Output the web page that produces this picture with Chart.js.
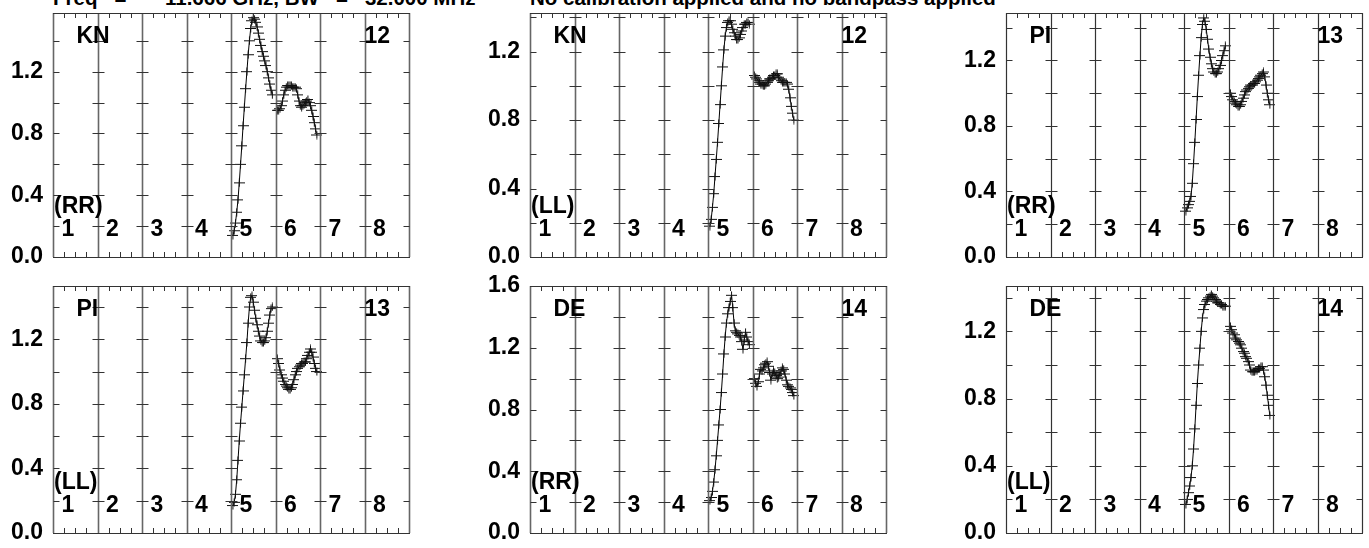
<!DOCTYPE html>
<html>
<head>
<meta charset="utf-8">
<script src="https://cdn.jsdelivr.net/npm/chart.js@4.4.1/dist/chart.umd.min.js"></script>
<style>
  html, body { margin:0; padding:0; background:#fff; }
  body { width:1369px; height:548px; position:relative; overflow:hidden; font-family:"Liberation Sans", Arial, Helvetica, sans-serif; }
  canvas { position:absolute; }
  .ttl { position:absolute; top:-12px; font-weight:bold; font-size:20.5px; line-height:20.5px; white-space:pre; color:#000; }
</style>
</head>
<body>
<div class="ttl" style="left:53px">Freq   =</div>
<div class="ttl" style="left:165px">11.666 GHz, BW   =   32.000 MHz</div>
<div class="ttl" style="left:530px">No calibration applied and no bandpass applied</div>
<script>
// ---------------- DATA ----------------
const ifLabels = ['1','2','3','4','5','6','7','8'];
const stations = ['KN','KN','PI','PI','DE','DE'];
const pols = ['(RR)','(LL)','(RR)','(LL)','(RR)','(LL)'];
const antNums = ['12','12','13','13','14','14'];
const yMax = [1.58, 1.425, 1.49, 1.53, 1.6, 1.47];
const yTickValues = [0.0, 0.4, 0.8, 1.2, 1.6];
const yMinorStep = 0.2;

// channel amplitudes, 32 channels, IF 5 and IF 6
const knRR5 = [0.14,0.17,0.22,0.29,0.37,0.48,0.60,0.72,0.85,0.97,1.09,1.20,1.31,1.40,1.48,1.53,1.55,1.54,1.52,1.49,1.45,1.41,1.37,1.33,1.30,1.27,1.24,1.20,1.16,1.12,1.08,1.05];
const knRR6 = [0.95,0.95,0.96,0.98,1.01,1.05,1.08,1.10,1.11,1.11,1.11,1.11,1.10,1.10,1.10,1.09,1.05,1.01,0.98,0.97,0.98,0.99,1.00,1.01,1.02,1.00,0.98,0.95,0.91,0.87,0.83,0.79];
const knLL5 = [0.18,0.22,0.29,0.37,0.47,0.57,0.67,0.78,0.89,1.00,1.11,1.21,1.29,1.34,1.37,1.38,1.38,1.36,1.33,1.31,1.29,1.27,1.27,1.28,1.30,1.32,1.34,1.36,1.36,1.37,1.37,1.36];
const knLL6 = [1.06,1.05,1.04,1.03,1.02,1.01,1.01,1.00,1.00,1.01,1.02,1.03,1.04,1.04,1.05,1.06,1.06,1.07,1.07,1.05,1.04,1.03,1.02,1.02,1.02,1.02,1.01,0.98,0.93,0.88,0.84,0.80];
const piRR5 = [0.28,0.30,0.32,0.34,0.37,0.45,0.57,0.70,0.84,0.98,1.11,1.23,1.34,1.42,1.46,1.44,1.39,1.33,1.27,1.22,1.18,1.15,1.13,1.12,1.12,1.13,1.15,1.17,1.20,1.23,1.26,1.29];
const piRR6 = [1.00,0.98,0.96,0.95,0.94,0.93,0.92,0.92,0.93,0.95,0.97,0.99,1.01,1.02,1.03,1.04,1.05,1.05,1.06,1.06,1.07,1.08,1.09,1.10,1.11,1.12,1.13,1.10,1.05,1.00,0.96,0.93];
const piLL5 = [0.17,0.19,0.24,0.33,0.45,0.57,0.68,0.78,0.88,0.98,1.08,1.18,1.30,1.40,1.46,1.47,1.43,1.38,1.33,1.29,1.25,1.22,1.19,1.18,1.18,1.19,1.21,1.25,1.30,1.35,1.39,1.40];
const piLL6 = [1.08,1.05,1.01,0.98,0.96,0.94,0.92,0.91,0.90,0.89,0.89,0.90,0.92,0.95,0.98,1.00,1.02,1.03,1.04,1.05,1.05,1.06,1.06,1.08,1.10,1.12,1.14,1.12,1.09,1.05,1.02,1.00];
const deRR5 = [0.21,0.23,0.27,0.33,0.41,0.50,0.60,0.70,0.80,0.91,1.03,1.16,1.27,1.36,1.42,1.46,1.50,1.54,1.46,1.36,1.31,1.30,1.29,1.28,1.27,1.24,1.19,1.25,1.30,1.27,1.24,1.22];
const deRR6 = [1.00,0.97,0.95,0.98,1.03,1.06,1.05,1.07,1.09,1.10,1.11,1.08,1.04,0.99,1.03,1.05,1.04,1.02,1.00,1.01,1.03,1.05,1.07,1.06,1.03,0.99,0.96,0.95,0.94,0.93,0.91,0.89];
const deLL5 = [0.17,0.20,0.24,0.28,0.33,0.40,0.50,0.62,0.76,0.89,1.00,1.10,1.20,1.28,1.33,1.36,1.38,1.39,1.40,1.41,1.42,1.41,1.40,1.39,1.38,1.37,1.37,1.36,1.36,1.35,1.35,1.35];
const deLL6 = [1.23,1.21,1.19,1.18,1.16,1.15,1.14,1.13,1.12,1.10,1.08,1.07,1.05,1.04,1.02,1.00,0.97,0.96,0.96,0.96,0.97,0.97,0.98,0.98,0.99,0.99,0.97,0.93,0.88,0.82,0.76,0.70];

const if5Series = [knRR5, knLL5, piRR5, piLL5, deRR5, deLL5];
const if6Series = [knRR6, knLL6, piRR6, piLL6, deRR6, deLL6];

// ---------------- LAYOUT ----------------
const plotLeft = [53, 530, 1006];
const plotTop = [13, 286];
const plotH = [244, 247];
const plotW = 356, axisW = 53, padRight = 4, padV = 26;
const nIF = 8, chPad = 1.5, chSpan = 35;
const FONT = '"Liberation Sans", Arial, Helvetica, sans-serif';

function chPoints(arr, ifNum) {
  return arr.map((v, c) => ({ x: (ifNum - 1) + (c + chPad) / chSpan, y: v }));
}

function plusMarker() {
  const cv = document.createElement('canvas');
  cv.width = 11; cv.height = 9;
  const g = cv.getContext('2d');
  g.strokeStyle = '#111'; g.lineWidth = 1;
  g.beginPath();
  g.moveTo(0, 4.5); g.lineTo(11, 4.5);
  g.moveTo(5.5, 0.5); g.lineTo(5.5, 8.5);
  g.stroke();
  return cv;
}
const marker = plusMarker();

const framePlugin = {
  id: 'posssmFrame',
  afterDraw(chart, args, opts) {
    const ctx = chart.ctx, xs = chart.scales.x, ys = chart.scales.y;
    const a = chart.chartArea;
    ctx.save();
    ctx.strokeStyle = opts.lineColor; ctx.lineWidth = opts.lineWidth;
    ctx.beginPath();
    for (let k = 0; k <= nIF; k++) {
      const px = Math.round(xs.getPixelForValue(k)) + 0.5;
      ctx.moveTo(px, a.top); ctx.lineTo(px, a.bottom);
    }
    ctx.stroke();
    ctx.strokeStyle = '#333'; ctx.lineWidth = 1.2;
    ctx.beginPath();
    ctx.moveTo(a.left, Math.round(a.top) + 0.5); ctx.lineTo(a.right + 1, Math.round(a.top) + 0.5);
    ctx.moveTo(a.left, Math.round(a.bottom) + 0.5); ctx.lineTo(a.right + 1, Math.round(a.bottom) + 0.5);
    ctx.stroke();
    ctx.lineWidth = 1; ctx.strokeStyle = opts.tickColor;
    ctx.beginPath();
    for (let k = 0; k < nIF; k++) {
      for (let q = 1; q < 4; q++) {
        const px = Math.round(xs.getPixelForValue(k + q / 4)) + 0.5;
        ctx.moveTo(px, a.top); ctx.lineTo(px, a.top + 5);
        ctx.moveTo(px, a.bottom); ctx.lineTo(px, a.bottom - 5);
      }
    }
    for (let v = yMinorStep; v < ys.max - 0.01; v += yMinorStep) {
      const py = Math.round(ys.getPixelForValue(v)) + 0.5;
      for (let k = 0; k <= nIF; k++) {
        const px = Math.round(xs.getPixelForValue(k)) + 0.5;
        const l = k === 0 ? 0 : 6, r = k === nIF ? 0 : 6;
        ctx.moveTo(px - l, py); ctx.lineTo(px + r, py);
      }
    }
    ctx.stroke();
    ctx.fillStyle = '#000';
    ctx.font = 'bold 23px ' + FONT;
    ctx.textBaseline = 'middle';
    ctx.textAlign = 'left';
    ctx.fillText(opts.station, a.left + 23.5, a.top + 24);
    ctx.fillText(opts.num, xs.getPixelForValue(7), a.top + 24);
    ctx.fillText(opts.pol, a.left + 1, a.bottom - 50);
    ctx.textAlign = 'center';
    for (let k = 0; k < nIF; k++) {
      ctx.fillText(ifLabels[k], xs.getPixelForValue(k) + 15, a.bottom - 27);
    }
    ctx.restore();
  }
};

for (let i = 0; i < 6; i++) {
  const row = Math.floor(i / 3), col = i % 3;
  const cv = document.createElement('canvas');
  const w = axisW + plotW + padRight;
  const h = padV + plotH[row] + padV;
  cv.width = w; cv.height = h;
  cv.style.left = (plotLeft[col] - axisW) + 'px';
  cv.style.top = (plotTop[row] - padV) + 'px';
  cv.style.width = w + 'px'; cv.style.height = h + 'px';
  document.body.appendChild(cv);
  const dsStyle = { borderColor:'#000', borderWidth:1, tension:0, fill:false, pointStyle: marker, pointRadius:3, pointHoverRadius:3 };
  new Chart(cv.getContext('2d'), {
    type: 'line',
    data: { datasets: [
      Object.assign({ data: chPoints(if5Series[i], 5) }, dsStyle),
      Object.assign({ data: chPoints(if6Series[i], 6) }, dsStyle)
    ]},
    options: {
      responsive:false, animation:false, devicePixelRatio:1,
      layout: { padding: { top: padV, bottom: padV, left: 0, right: padRight } },
      plugins: {
        legend: { display:false }, tooltip: { enabled:false },
        posssmFrame: { station: stations[i], pol: pols[i], num: antNums[i],
          lineColor: col === 2 ? '#333' : '#666', lineWidth: col === 2 ? 1.2 : 1.6, tickColor: '#333' }
      },
      scales: {
        x: { type:'linear', min:0, max:nIF, display:false },
        y: { type:'linear', min:0, max:yMax[i],
          afterFit: s => { s.width = axisW; },
          afterBuildTicks: s => { s.ticks = yTickValues.filter(v => v <= yMax[i] + 1e-9).map(v => ({ value: v })); },
          grid: { display:false, drawTicks:false }, border: { display:false },
          ticks: { color:'#000', padding:10, font: { family: FONT, size: 23, weight:'bold' }, callback: v => Number(v).toFixed(1) }
        }
      }
    },
    plugins: [framePlugin]
  });
}
</script>
</body>
</html>
